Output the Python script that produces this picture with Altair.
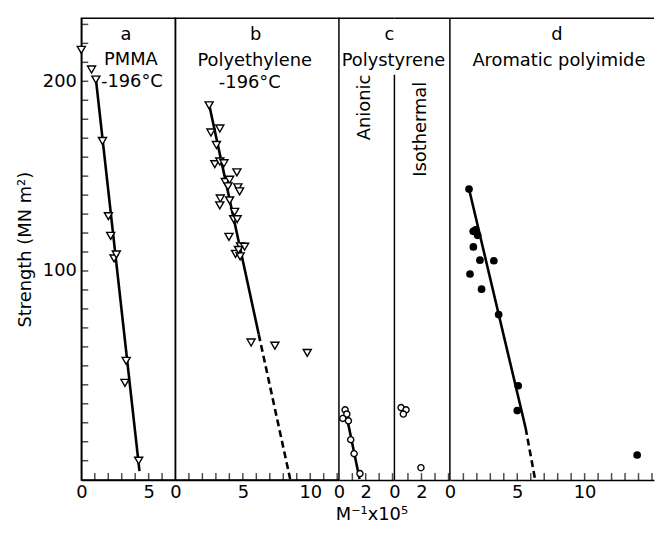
import altair as alt
import pandas as pd

FONT = "DejaVu Sans"
H = 466
Y_DOMAIN = [-10.2, 233.2]

# ---------------- data ----------------
# a: PMMA -196 C
a_x = [0.0, 0.76, 1.08, 1.57, 2.01, 2.18, 2.43, 2.60, 3.33, 3.24, 4.26]
a_y = [216.6, 206.2, 200.9, 168.5, 128.9, 118.5, 106.6, 108.7, 52.6, 41.0, 0.0]
a_fit_x = [1.08, 4.32]
a_fit_y = [201.3, -5.5]

# b: Polyethylene -196 C
b_x = [2.50, 2.63, 3.29, 3.04, 2.92, 3.29, 3.60, 4.56, 3.70, 4.02, 3.90, 4.63, 4.76, 3.33,
       3.29, 4.02, 4.39, 4.32, 4.58, 3.97, 4.83, 5.13, 4.46, 4.80, 4.68, 5.61, 7.38, 9.78]
b_y = [187.3, 173.0, 175.1, 166.4, 156.3, 157.7, 156.8, 152.0, 146.9, 148.1, 144.6, 144.1,
       142.0, 138.2, 134.6, 137.2, 131.2, 127.3, 127.3, 118.0, 113.0, 112.8, 109.0, 107.7,
       111.1, 62.3, 60.6, 56.8]
b_fit_x = [2.50, 6.18]
b_fit_y = [187.7, 66.6]
b_ext_x = [6.18, 8.51]
b_ext_y = [66.6, -9.6]

# c: Polystyrene, anionic and isothermal
c_an_x = [0.46, 0.59, 0.29, 0.71, 0.88, 1.13, 1.57]
c_an_y = [26.8, 24.6, 22.3, 21.0, 11.1, 3.7, -6.8]
c_an_fit_x = [0.55, 1.54]
c_an_fit_y = [24.3, -9.7]
c_iso_x = [0.49, 0.86, 0.66, 1.96]
c_iso_y = [28.0, 26.8, 24.6, -3.7]

# d: Aromatic polyimide
d_x = [1.42, 1.73, 1.91, 2.06, 1.74, 2.23, 3.26, 1.49, 2.35, 3.62, 5.07, 5.00, 13.9]
d_y = [143.2, 120.9, 121.7, 118.8, 112.7, 105.7, 105.4, 98.4, 90.4, 77.0, 39.5, 26.4, 3.0]
d_fit_x = [1.42, 5.62]
d_fit_y = [143.2, 17.2]
d_ext_x = [5.62, 6.32]
d_ext_y = [17.2, -9.7]

# axis labels and minor ticks
y_labels = [100, 200]
y_ticks = [0, 10, 20, 30, 40, 50, 60, 70, 80, 90, 100, 110, 120, 130, 140, 150, 160, 170,
           180, 190, 200, 210, 220, 230]
a_labels, a_ticks = [0, 5], [1, 2, 3, 4, 5, 6]
b_labels, b_ticks = [0, 5, 10], [1, 2, 3, 4, 5, 6, 7, 8, 9, 10, 11, 12]
c_labels, c_ticks = [0, 2], [1, 2, 3, 4]
d_labels, d_ticks = [0, 5, 10], [1, 2, 3, 4, 5, 6, 7, 8, 9, 10, 11, 12, 13, 14, 15]

ONE = pd.DataFrame({"k": [0]})


def df(x, y):
    return pd.DataFrame({"x": x, "y": y})


def make_panel(width, xmax, labels, ticks, layers_spec, show_y=False):
    xs = alt.Scale(domain=[0, xmax], nice=False, zero=False)
    ys = alt.Scale(domain=Y_DOMAIN, nice=False, zero=False)
    xaxis = alt.Axis(values=labels, format="d", labelFlush=False, title=None)
    if show_y:
        yaxis = alt.Axis(values=y_labels, format="d", title="Strength (MN m²)",
                         titlePadding=8, labelPadding=5)
    else:
        yaxis = None

    def X(f="x"):
        return alt.X(f, type="quantitative", scale=xs, axis=xaxis)

    def Y(f="y"):
        return alt.Y(f, type="quantitative", scale=ys, axis=yaxis)

    layers = []
    for kind, data, opts in layers_spec:
        if kind == "line":
            layers.append(
                alt.Chart(data).mark_line(color="black", strokeWidth=2.6, **opts)
                .encode(x=X(), y=Y())
            )
        elif kind == "tri":
            layers.append(
                alt.Chart(data).mark_point(shape="triangle-down", filled=True, fill="white",
                                           stroke="black", strokeWidth=1.4, size=66, opacity=1)
                .encode(x=X(), y=Y())
            )
        elif kind == "ocirc":
            layers.append(
                alt.Chart(data).mark_point(shape="circle", filled=True, fill="white",
                                           stroke="black", strokeWidth=1.4, size=38, opacity=1)
                .encode(x=X(), y=Y())
            )
        elif kind == "dot":
            layers.append(
                alt.Chart(data).mark_point(shape="circle", filled=True, color="black",
                                           size=60, opacity=1)
                .encode(x=X(), y=Y())
            )
        elif kind == "text":
            txt, px, py, ang = opts
            mk = dict(text=txt, font=FONT, fontSize=18, color="black",
                      align="center", baseline="middle")
            if ang:
                mk["angle"] = ang
            layers.append(
                alt.Chart(ONE).mark_text(**mk).encode(x=alt.value(px), y=alt.value(py))
            )
        elif kind == "rule":
            x1, x2, y1, y2 = opts
            layers.append(
                alt.Chart(ONE).mark_rule(color="black", strokeWidth=1.5)
                .encode(x=alt.value(x1), x2=alt.value(x2), y=alt.value(y1), y2=alt.value(y2))
            )
    # minor ticks pointing inward on the x axis (drawn last)
    layers.append(
        alt.Chart(pd.DataFrame({"t": ticks})).mark_tick(
            color="black", orient="vertical", size=7, thickness=1.5)
        .encode(x=X("t"), y=alt.value(H - 3.5))
    )
    if show_y:
        layers.append(
            alt.Chart(pd.DataFrame({"v": y_ticks})).mark_tick(
                color="black", orient="horizontal", size=7, thickness=1.5)
            .encode(y=Y("v"), x=alt.value(3.5))
        )
    return alt.layer(*layers).properties(width=width, height=H)


pa = make_panel(95, 6.99, a_labels, a_ticks, [
    ("line", df(a_fit_x, a_fit_y), {}),
    ("tri", df(a_x, a_y), None),
    ("text", None, ("a", 45, 17, 0)),
    ("text", None, ("PMMA", 50, 42, 0)),
    ("text", None, ("-196°C", 51, 64, 0)),
], show_y=True).properties(view=alt.ViewBackground(stroke="black", strokeWidth=1.5))

pb = make_panel(165, 12.13, b_labels, b_ticks, [
    ("line", df(b_fit_x, b_fit_y), {}),
    ("line", df(b_ext_x, b_ext_y), {"strokeDash": [7, 4]}),
    ("tri", df(b_x, b_y), None),
    ("text", None, ("b", 81, 17, 0)),
    ("text", None, ("Polyethylene", 80, 43, 0)),
    ("text", None, ("-196°C", 75, 65, 0)),
]).properties(view=alt.ViewBackground(stroke="black", strokeWidth=1.5))

pc1 = make_panel(56, 4.14, c_labels, c_ticks, [
    ("line", df(c_an_fit_x, c_an_fit_y), {}),
    ("ocirc", df(c_an_x, c_an_y), None),
    ("rule", None, (0, 56, 0, 0)),
    ("text", None, ("c", 51, 17, 0)),
    ("text", None, ("Polystyrene", 55, 43, 0)),
    ("text", None, ("Anionic", 26, 90, 270)),
]).properties(view=alt.ViewBackground(stroke=None))

pc2 = make_panel(56, 4.1, c_labels, c_ticks, [
    ("ocirc", df(c_iso_x, c_iso_y), None),
    ("rule", None, (0, 56, 0, 0)),
    ("rule", None, (0, 0, 57, H)),
    ("text", None, ("Isothermal", 27, 112, 270)),
]).properties(view=alt.ViewBackground(stroke=None))

pd_ = make_panel(206, 15.15, d_labels, d_ticks, [
    ("line", df(d_fit_x, d_fit_y), {}),
    ("line", df(d_ext_x, d_ext_y), {"strokeDash": [7, 4]}),
    ("dot", df(d_x, d_y), None),
    ("rule", None, (0, 206, 0, 0)),
    ("rule", None, (0, 0, 0, H)),
    ("text", None, ("d", 108, 17, 0)),
    ("text", None, ("Aromatic polyimide", 110, 43, 0)),
]).properties(view=alt.ViewBackground(stroke=None))

chart = alt.hconcat(pa, pb, pc1, pc2, pd_, spacing=0, bounds="flush").properties(
    title=alt.TitleParams(text="M⁻¹x10⁵", orient="bottom", anchor="middle", font=FONT,
                          fontSize=18, fontWeight="normal", color="black", offset=4, dx=37),
    padding={"top": 7, "left": 7, "right": 0, "bottom": 2},
).configure_axis(
    domainColor="black", domainWidth=1.5, ticks=False, grid=False,
    labelFont=FONT, labelFontSize=18, labelColor="black", labelPadding=4,
    titleFont=FONT, titleFontSize=18, titleFontWeight="normal", titleColor="black",
).configure_view(stroke=None)

chart.save("out.html", embed_options={"renderer": "svg", "actions": False})
